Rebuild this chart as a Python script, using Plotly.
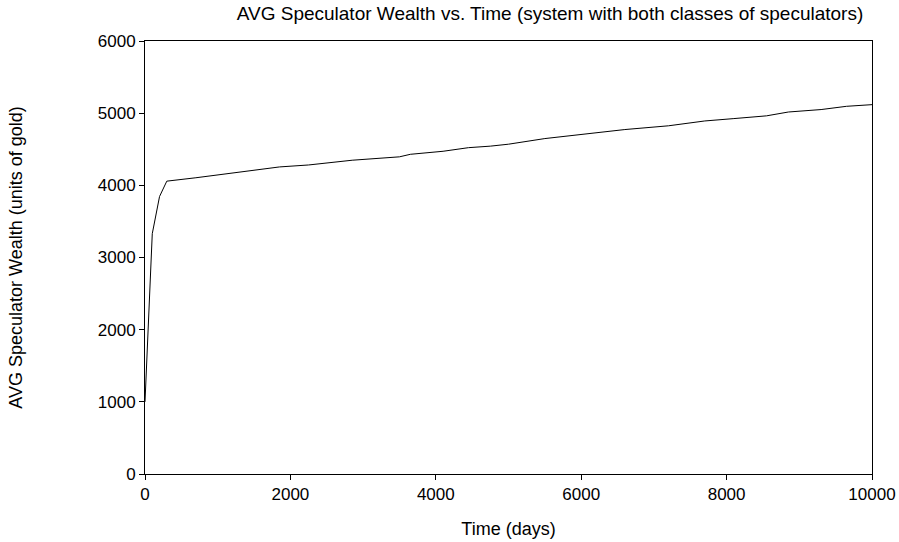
import plotly.graph_objects as go

time_days = [0, 100, 200, 300, 700, 1050, 1500, 1850, 2250, 2550, 2850, 3500,
             3650, 4100, 4450, 4750, 5000, 5500, 6100, 6600, 7200, 7450, 7700,
             8100, 8550, 8850, 9300, 9650, 10000]
avg_wealth = [1000, 3330, 3845, 4058, 4105, 4152, 4218, 4255, 4282, 4318, 4348,
              4395, 4430, 4472, 4522, 4543, 4570, 4648, 4718, 4773, 4825, 4858,
              4892, 4925, 4963, 5016, 5050, 5095, 5118]

x_ticks = [0, 2000, 4000, 6000, 8000, 10000]
x_tick_labels = ["0", "2000", "4000", "6000", "8000", "10000"]
y_ticks = [0, 1000, 2000, 3000, 4000, 5000, 6000]
y_tick_labels = ["0", "1000", "2000", "3000", "4000", "5000", "6000"]

fig = go.Figure()
fig.add_trace(go.Scatter(x=time_days, y=avg_wealth, mode="lines",
                         line=dict(color="black", width=1), showlegend=False))

axis_common = dict(showgrid=False, zeroline=False, showline=True, linecolor="black",
                   linewidth=1, mirror=True, ticks="outside", ticklen=5,
                   tickcolor="black", tickfont=dict(size=17, color="black"),
                   automargin=False)

W, H = 899, 542
fig.update_layout(
    width=W, height=H,
    margin=dict(l=145, r=27, t=41, b=68),
    paper_bgcolor="white", plot_bgcolor="white",
    font=dict(family="Liberation Sans, Arial, sans-serif", color="black"),
    title=dict(text="AVG Speculator Wealth vs. Time (system with both classes of speculators)",
               xref="container", yref="container",
               x=550 / W, xanchor="center", y=1 - 13 / H, yanchor="middle",
               font=dict(size=19)),
    xaxis=dict(range=[0, 10000], tickvals=x_ticks, ticktext=x_tick_labels,
               title=dict(text="Time (days)", font=dict(size=18), standoff=18),
               **axis_common),
    yaxis=dict(range=[0, 6000], tickvals=y_ticks, ticktext=y_tick_labels,
               title=dict(text="AVG Speculator Wealth (units of gold)", font=dict(size=18), standoff=70),
               **axis_common),
)

fig.write_html("out.html", config={"displayModeBar": False},
               post_script="document.body.style.margin='0';document.body.style.overflow='hidden';")
